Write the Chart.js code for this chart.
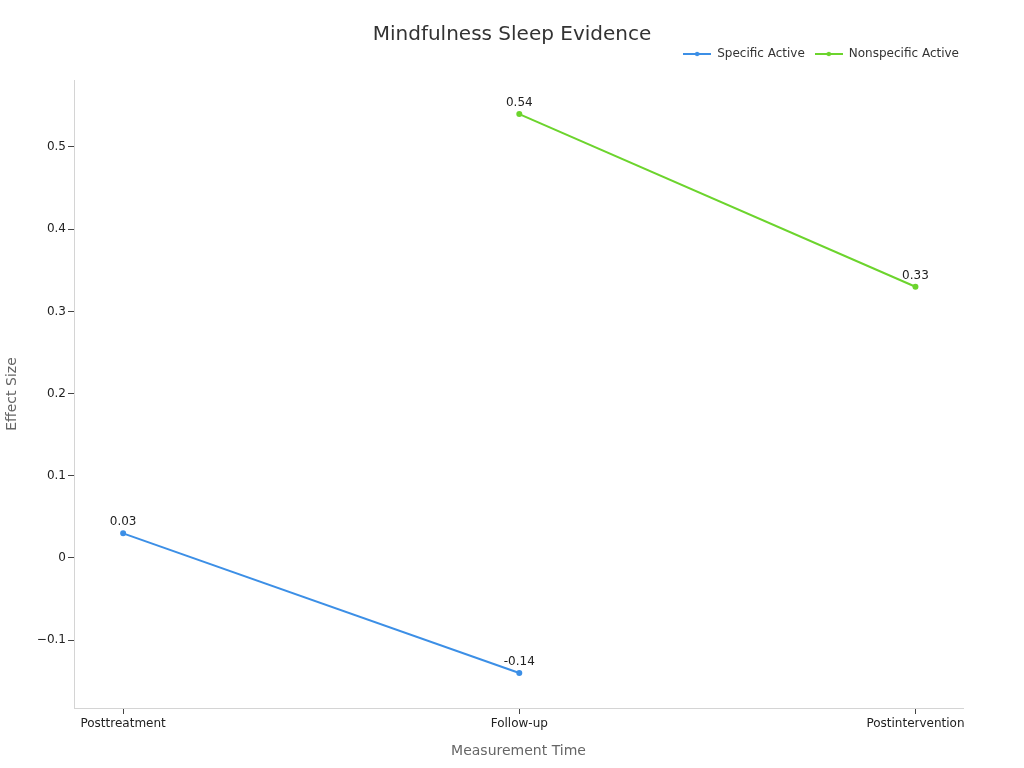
<!DOCTYPE html>
<html>
<head>
<meta charset="utf-8">
<script src="https://cdn.jsdelivr.net/npm/chart.js@4"></script>
<style>
  html, body { margin: 0; padding: 0; background: #fff; }
  #wrap { width: 1024px; height: 768px; }
</style>
</head>
<body>
<div id="wrap"><canvas id="c"></canvas></div>
<script>
const categories   = ['Posttreatment', 'Follow-up', 'Postintervention'];
const specific     = [0.03, -0.14, null];
const nonspecific  = [null, 0.54, 0.33];
const seriesNames  = ['Specific Active', 'Nonspecific Active'];
const yTicks       = [-0.1, 0, 0.1, 0.2, 0.3, 0.4, 0.5];

const BLUE  = '#3c8fe6';
const GREEN = '#6cd42d';
const FONT  = "'DejaVu Sans', sans-serif";

function toPoints(arr) {
  return arr.map((v, i) => v === null ? null : { x: i, y: v }).filter(p => p);
}

// little line+dot marker for the legend
function legendMarker(color) {
  const c = document.createElement('canvas');
  c.width = 28; c.height = 8;
  const g = c.getContext('2d');
  g.strokeStyle = color; g.lineWidth = 2;
  g.beginPath(); g.moveTo(0, 4); g.lineTo(28, 4); g.stroke();
  g.fillStyle = color;
  g.beginPath(); g.arc(14, 4, 2.2, 0, Math.PI * 2); g.fill();
  return c;
}

const valueLabels = {
  id: 'valueLabels',
  afterDatasetsDraw(chart) {
    const ctx = chart.ctx;
    ctx.save();
    ctx.font = '12px ' + FONT;
    ctx.fillStyle = '#222';
    ctx.textAlign = 'center';
    ctx.textBaseline = 'bottom';
    chart.data.datasets.forEach((ds, i) => {
      chart.getDatasetMeta(i).data.forEach((pt, j) => {
        ctx.fillText(String(ds.data[j].y), pt.x, pt.y - 5);
      });
    });
    ctx.restore();
  }
};

// nudge the legend a little past the plot's right edge
const legendNudge = {
  id: 'legendNudge',
  afterLayout(chart) { if (chart.legend) chart.legend.right += 6; }
};

// hidden axes only used to reserve space round the plot
const spacer = extra => Object.assign({
  type: 'linear', display: true,
  ticks: { display: false }, grid: { display: false }, border: { display: false }
}, extra);

new Chart(document.getElementById('c'), {
  type: 'line',
  data: {
    datasets: [
      { label: seriesNames[0], data: toPoints(specific), borderColor: BLUE, backgroundColor: BLUE,
        borderWidth: 2, pointRadius: 2, pointHoverRadius: 2, tension: 0 },
      { label: seriesNames[1], data: toPoints(nonspecific), borderColor: GREEN, backgroundColor: GREEN,
        borderWidth: 2, pointRadius: 2, pointHoverRadius: 2, tension: 0 },
    ]
  },
  plugins: [valueLabels, legendNudge],
  options: {
    responsive: true, maintainAspectRatio: false, animation: false,
    layout: { padding: { left: 0, right: 0, top: 0, bottom: 4 } },
    plugins: {
      title: { display: true, text: 'Mindfulness Sleep Evidence', color: '#333',
               font: { family: FONT, size: 20, weight: 'normal' }, padding: { top: 23, bottom: -9 } },
      legend: {
        align: 'end', fullSize: false,
        labels: {
          color: '#333', font: { family: FONT, size: 12 }, usePointStyle: true, pointStyleWidth: 28,
          padding: 10,
          generateLabels: chart => chart.data.datasets.map((ds, i) => ({
            text: ds.label, pointStyle: legendMarker(ds.borderColor), fillStyle: ds.borderColor,
            strokeStyle: ds.borderColor, lineWidth: 0, datasetIndex: i, fontColor: '#333'
          }))
        }
      },
      tooltip: { enabled: false }
    },
    scales: {
      x: {
        type: 'linear', min: -0.124, max: 2.12,
        afterBuildTicks: s => { s.ticks = categories.map((_, i) => ({ value: i })); },
        afterFit: s => { s.height = 56; },
        ticks: { color: '#222', font: { family: FONT, size: 12 }, padding: 3, maxRotation: 0,
                 callback: v => categories[v] },
        grid: { drawOnChartArea: false, drawTicks: true, tickLength: 6, tickColor: '#444' },
        border: { color: '#d4d4d4' },
        title: { display: true, text: 'Measurement Time', color: '#666',
                 font: { family: FONT, size: 14 }, padding: { top: 12 } }
      },
      y: {
        min: -0.1825, max: 0.5815,
        afterBuildTicks: s => { s.ticks = yTicks.map(v => ({ value: v })); },
        afterFit: s => { s.width = 74; },
        ticks: { color: '#222', font: { family: FONT, size: 12 }, padding: 2,
                 callback: v => v < 0 ? '\u2212' + Math.abs(v) : String(v) },
        grid: { drawOnChartArea: false, drawTicks: true, tickLength: 6, tickColor: '#444' },
        border: { color: '#d4d4d4' },
        title: { display: true, text: 'Effect Size', color: '#666',
                 font: { family: FONT, size: 14 }, padding: { top: 4, bottom: 10 } }
      },
      padTop: spacer({ position: 'top', afterFit: s => { s.height = 10; } }),
      padRight: spacer({ position: 'right', afterFit: s => { s.width = 61; } })
    }
  }
});
</script>
</body>
</html>
